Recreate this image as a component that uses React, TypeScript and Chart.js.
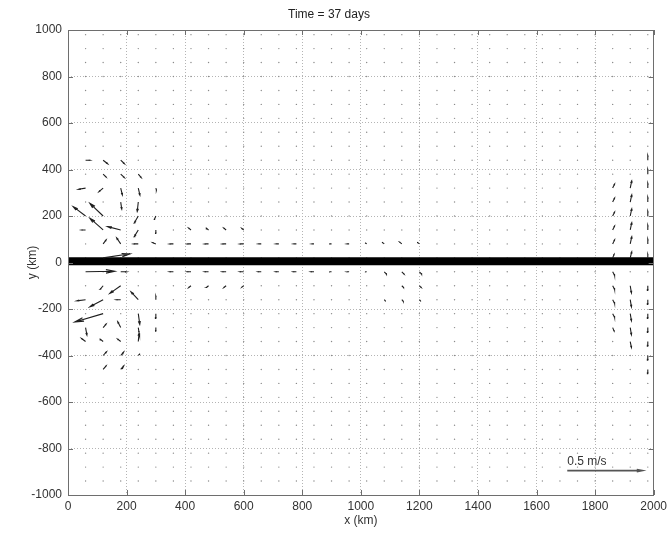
import React, { useEffect, useRef } from "react";
import { Chart, registerables } from "chart.js";

Chart.register(...registerables);

const TITLE = "Time = 37 days";
const X_LABEL = "x (km)";
const Y_LABEL = "y (km)";
const SCALE_LABEL = "0.5 m/s";
const SCALE_SPEED = 0.5; // m/s
const SCALE_AT = [1705, -895]; // km, tail of the reference arrow
const KM_PER_MS = 510; // quiver scale: km of plot per m/s

const xTickValues = [0, 200, 400, 600, 800, 1000, 1200, 1400, 1600, 1800, 2000];
const yTickValues = [-1000, -800, -600, -400, -200, 0, 200, 400, 600, 800, 1000];

const gridX = [60, 120, 180, 240, 300, 360, 420, 480, 540, 600, 660, 720, 780, 840, 900, 960, 1020,
  1080, 1140, 1200, 1260, 1320, 1380, 1440, 1500, 1560, 1620, 1680, 1740, 1800, 1860, 1920, 1980];
const gridY = [-940, -880, -820, -760, -700, -640, -580, -520, -460, -400, -340, -280, -220, -160, -100,
  -40, 20, 80, 140, 200, 260, 320, 380, 440, 500, 560, 620, 680, 740, 800, 860, 920, 980];

const coastX = [0, 2000];
const coastY = [5, 5];

// western eddies, north of the equator: [x km, y km, u m/s, v m/s]
const westNorth: [number, number, number, number][] = [
  [60, 440, 0.03, 0], [120, 440, 0.03, -0.03], [180, 440, 0.025, -0.03],
  [120, 380, 0.02, -0.025], [180, 380, 0.025, -0.03], [240, 380, 0.02, -0.03],
  [60, 320, -0.047, -0.01], [120, 320, -0.028, -0.03], [180, 320, 0.011, -0.057], [240, 320, 0.011, -0.06], [300, 320, 0.005, -0.02],
  [180, 260, 0.007, -0.06], [240, 260, -0.007, -0.08],
  [60, 200, -0.083, 0.079], [120, 200, -0.089, 0.107], [240, 200, -0.027, -0.059], [300, 200, -0.01, -0.03],
  [60, 140, -0.027, 0], [120, 140, -0.089, 0.099], [180, 140, -0.087, 0.028], [240, 140, -0.027, -0.056], [300, 140, 0, -0.03],
  [120, 80, 0.02, 0.034], [180, 80, -0.027, 0.05], [240, 80, -0.03, 0], [300, 80, -0.02, 0.01],
  [120, 20, 0.18, 0.034],
];

// western eddies, south of the equator
const westSouth: [number, number, number, number][] = [
  [60, -40, 0.195, 0.005], [180, -40, 0.04, 0],
  [120, -100, -0.02, -0.03], [180, -100, -0.073, -0.064],
  [60, -160, -0.06, -0.01], [120, -160, -0.089, -0.06], [180, -160, -0.03, 0], [240, -160, -0.049, 0.067], [300, -160, 0, 0.03],
  [120, -220, -0.19, -0.07], [240, -220, 0.01, -0.09], [300, -220, 0, -0.04],
  [60, -280, 0.009, -0.063], [120, -280, 0.02, 0.03], [180, -280, -0.02, 0.049], [240, -280, 0.005, -0.04], [300, -280, 0, -0.03],
  [60, -340, -0.027, 0.026], [120, -340, -0.02, 0.02], [180, -340, -0.02, 0.02], [240, -340, 0.005, 0.07],
  [120, -400, 0.022, 0.03], [180, -400, 0.02, 0.03], [240, -400, 0.01, 0.015],
  [120, -460, 0.02, 0.03], [180, -460, 0.02, 0.03],
];

// equatorial band, interior
const interior: [number, number, number, number][] = [
  [360, 80, -0.025, 0], [420, 80, -0.025, 0], [480, 80, -0.025, 0], [540, 80, -0.025, 0], [600, 80, -0.025, 0],
  [660, 80, -0.02, 0], [720, 80, -0.02, 0], [780, 80, -0.02, 0], [840, 80, -0.015, 0], [900, 80, -0.015, 0], [960, 80, -0.015, 0],
  [1020, 80, -0.01, 0.01], [1080, 80, -0.015, 0.015], [1140, 80, -0.015, 0.015], [1200, 80, -0.015, 0.015],
  [360, -40, -0.025, 0], [420, -40, -0.025, 0], [480, -40, -0.025, 0], [540, -40, -0.025, 0], [600, -40, -0.025, 0],
  [660, -40, -0.02, 0], [720, -40, -0.02, 0], [780, -40, -0.02, 0], [840, -40, -0.02, 0], [900, -40, -0.015, 0], [960, -40, -0.015, 0],
  [1020, -40, -0.01, 0], [1080, -40, 0.015, -0.02], [1140, -40, 0.015, -0.02], [1200, -40, 0.015, -0.02],
  [420, 140, -0.015, 0.015], [480, 140, -0.015, 0.015], [540, 140, -0.015, 0.015], [600, 140, -0.012, 0.012],
  [420, -100, -0.015, -0.015], [480, -100, -0.015, -0.015], [540, -100, -0.015, -0.015], [600, -100, -0.012, -0.012],
  [1140, -100, 0.012, -0.015], [1200, -100, 0.012, -0.015],
  [1080, -160, 0.01, -0.015], [1140, -160, 0.01, -0.015], [1200, -160, 0.01, -0.015],
];

// eastern boundary
const east: [number, number, number, number][] = [
  [1860, 320, 0.013, 0.034], [1860, 260, 0.013, 0.034], [1860, 200, 0.013, 0.034], [1860, 140, 0.013, 0.034], [1860, 80, 0.013, 0.034], [1860, 20, 0.01, 0.03],
  [1920, 320, 0.01, 0.06], [1920, 260, 0.01, 0.06], [1920, 200, 0.01, 0.06], [1920, 140, 0.01, 0.06], [1920, 80, 0.01, 0.06], [1920, 20, 0.01, 0.05],
  [1980, 440, 0, 0.04], [1980, 380, 0, 0.04], [1980, 320, 0, 0.04], [1980, 260, 0, 0.04], [1980, 200, 0, 0.04], [1980, 140, 0, 0.04], [1980, 80, 0, 0.04], [1980, 20, 0, 0.03],
  [1860, -40, 0.013, -0.03], [1860, -100, 0.013, -0.03], [1860, -160, 0.013, -0.03], [1860, -220, 0.013, -0.03], [1860, -280, 0.01, -0.03],
  [1920, -100, 0.008, -0.06], [1920, -160, 0.008, -0.06], [1920, -220, 0.008, -0.06], [1920, -280, 0.008, -0.06], [1920, -340, 0.008, -0.05],
  [1980, -100, 0, -0.04], [1980, -160, 0, -0.04], [1980, -220, 0, -0.04], [1980, -280, 0, -0.04], [1980, -340, 0, -0.04], [1980, -400, 0, -0.04], [1980, -460, 0, -0.035],
];

const FONT = "'Liberation Sans', Arial, Helvetica, sans-serif";

type Pt = { x: number; y: number | null };

function arrowPoints(x: number, y: number, u: number, v: number, a: number, b: number): Pt[] {
  const U = u * KM_PER_MS;
  const V = v * KM_PER_MS;
  const tx = x + U;
  const ty = y + V;
  return [
    { x, y }, { x: tx, y: ty }, { x: tx, y: null },
    { x: tx - a * (U + b * V), y: ty - a * (V - b * U) }, { x: tx, y: ty },
    { x: tx - a * (U - b * V), y: ty - a * (V + b * U) }, { x: tx, y: null },
  ];
}

export default function App() {
  const ref = useRef<HTMLCanvasElement | null>(null);

  useEffect(() => {
    if (!ref.current) return;
    const vectors = [...westNorth, ...westSouth, ...interior, ...east];
    const vecKeys = new Set(vectors.map((v) => `${v[0]},${v[1]}`));
    const dots: Pt[] = [];
    for (const gx of gridX) for (const gy of gridY) {
      if (!vecKeys.has(`${gx},${gy}`)) dots.push({ x: gx, y: gy });
    }
    const arrows: Pt[] = [];
    for (const [x, y, u, v] of vectors) arrows.push(...arrowPoints(x, y, u, v, 0.3, 0.25));
    const scaleArrow = arrowPoints(SCALE_AT[0], SCALE_AT[1], SCALE_SPEED, 0, 0.07, 0.25);
    const coast = coastX.map((x, i) => ({ x, y: coastY[i] }));

    const framePlugin = {
      id: "frame",
      afterDatasetsDraw(chart: any) {
        const { ctx, chartArea: a, scales } = chart;
        ctx.save();
        ctx.strokeStyle = "#6e6e6e";
        ctx.lineWidth = 1;
        ctx.strokeRect(Math.round(a.left) + 0.5, Math.round(a.top) + 0.5, Math.round(a.right - a.left) - 1, Math.round(a.bottom - a.top));
        ctx.beginPath();
        for (const v of xTickValues) {
          const px = Math.round(scales.x.getPixelForValue(v)) + 0.5;
          ctx.moveTo(px, a.top); ctx.lineTo(px, a.top + 5);
          ctx.moveTo(px, a.bottom); ctx.lineTo(px, a.bottom - 5);
        }
        for (const v of yTickValues) {
          const py = Math.round(scales.y.getPixelForValue(v)) + 0.5;
          ctx.moveTo(a.left, py); ctx.lineTo(a.left + 5, py);
          ctx.moveTo(a.right, py); ctx.lineTo(a.right - 5, py);
        }
        ctx.stroke();
        ctx.fillStyle = "#333";
        ctx.font = `12px ${FONT}`;
        ctx.textBaseline = "middle";
        ctx.textAlign = "left";
        ctx.fillText(SCALE_LABEL, scales.x.getPixelForValue(SCALE_AT[0]), scales.y.getPixelForValue(SCALE_AT[1]) - 9);
        ctx.restore();
      },
    };

    const tickFont = { family: FONT, size: 12 };
    const chart = new Chart(ref.current, {
      type: "scatter",
      data: {
        datasets: [
          { data: scaleArrow, showLine: true, borderColor: "#555", borderWidth: 1.8, pointRadius: 0, spanGaps: false } as any,
          { data: arrows, showLine: true, borderColor: "#1f1f1f", borderWidth: 1.1, pointRadius: 0, spanGaps: false } as any,
          { data: coast, showLine: true, borderColor: "#000", borderWidth: 8, pointRadius: 0 } as any,
          { data: dots, pointRadius: 0.7, backgroundColor: "#8a8a8a", borderWidth: 0 } as any,
        ],
      },
      options: {
        animation: false,
        responsive: true,
        maintainAspectRatio: false,
        layout: { padding: { left: 0, right: 13, top: 0, bottom: 0 } },
        plugins: {
          legend: { display: false },
          tooltip: { enabled: false },
          title: {
            display: true,
            text: TITLE,
            color: "#222",
            font: { family: FONT, size: 12, weight: "normal" },
            padding: { top: 7, bottom: 8.6 },
          },
        },
        scales: {
          x: {
            type: "linear",
            min: 0,
            max: 2000,
            afterBuildTicks: (s: any) => { s.ticks = xTickValues.map((value) => ({ value })); },
            afterFit: (s: any) => { s.height = 39; },
            ticks: { color: "#333", font: tickFont, padding: 4, maxRotation: 0, autoSkip: false, callback: (v: any) => String(v) },
            grid: { color: "#b4b4b4", lineWidth: 1, drawTicks: false },
            border: { display: false, dash: [1, 2] },
            title: { display: true, text: X_LABEL, color: "#333", font: tickFont, padding: { top: 0, bottom: 6 } },
          },
          y: {
            type: "linear",
            min: -1000,
            max: 1000,
            afterBuildTicks: (s: any) => { s.ticks = yTickValues.map((value) => ({ value })); },
            afterFit: (s: any) => { s.width = 68; },
            ticks: { color: "#333", font: tickFont, padding: 6, autoSkip: false, callback: (v: any) => String(v) },
            grid: { color: "#b4b4b4", lineWidth: 1, drawTicks: false },
            border: { display: false, dash: [1, 2] },
            title: { display: true, text: Y_LABEL, color: "#333", font: tickFont, padding: { top: 25, bottom: 0 } },
          },
        },
      },
      plugins: [framePlugin],
    } as any);
    return () => chart.destroy();
  }, []);

  return (
    <div style={{ position: "absolute", left: 0, top: 0, width: 671, height: 534, background: "#fff" }}>
      <canvas ref={ref} />
    </div>
  );
}
